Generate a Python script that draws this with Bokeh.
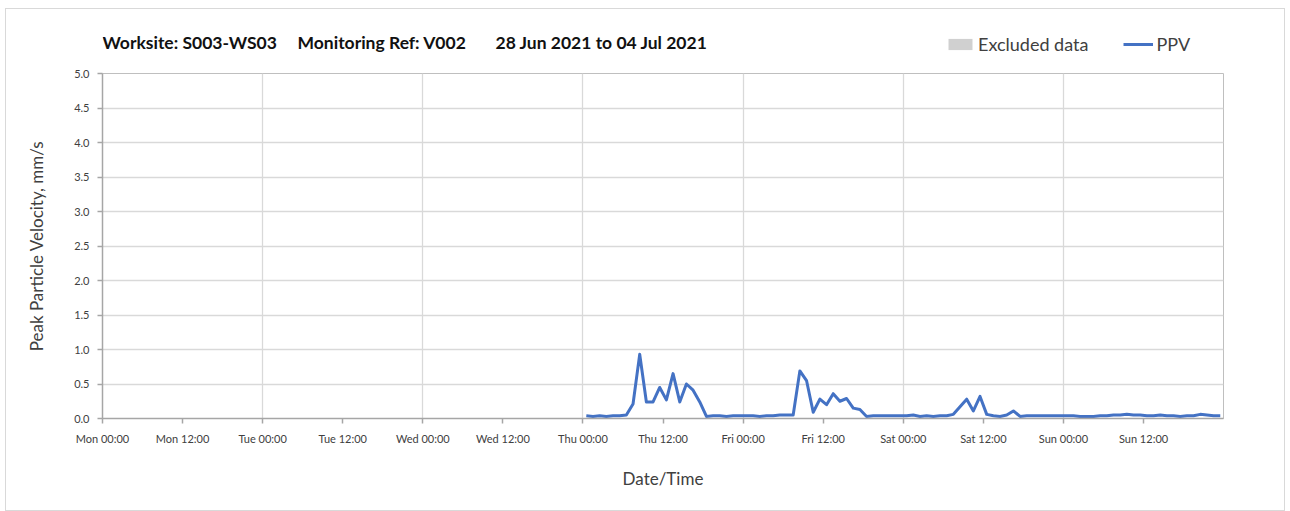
import pandas as pd
from bokeh.plotting import figure
from bokeh.layouts import column
from bokeh.models import (Range1d, SingleIntervalTicker, FixedTicker, DatetimeTickFormatter,
                          NumeralTickFormatter, Legend, LegendItem, Label, ColumnDataSource)
from bokeh.embed import file_html
from bokeh.resources import INLINE

# ---------------- data ----------------
TITLE_SITE = "Worksite: S003-WS03"
TITLE_REF = "Monitoring Ref: V002"
TITLE_DATES = "28 Jun 2021 to 04 Jul 2021"
Y_LABEL = "Peak Particle Velocity, mm/s"
X_LABEL = "Date/Time"
SERIES_NAME = "PPV"
EXCLUDED_NAME = "Excluded data"

X_START = "2021-06-28 00:00"
X_END = "2021-07-05 00:00"
DATA_START = "2021-07-01 00:30"   # hourly readings from here

ppv = [
    0.04, 0.03, 0.04, 0.03, 0.04, 0.04, 0.05, 0.21, 0.93, 0.24,   # Thu
    0.24, 0.45, 0.27, 0.65, 0.24, 0.50, 0.41, 0.24, 0.03, 0.04,
    0.04, 0.03, 0.04, 0.04, 0.04, 0.04, 0.03, 0.04, 0.04, 0.05,   # Fri
    0.05, 0.05, 0.69, 0.55, 0.09, 0.28, 0.20, 0.36, 0.25, 0.29,
    0.15, 0.13, 0.03, 0.04, 0.04, 0.04, 0.04, 0.04, 0.04, 0.05,   # Sat
    0.03, 0.04, 0.03, 0.04, 0.04, 0.06, 0.17, 0.28, 0.11, 0.32,
    0.06, 0.04, 0.03, 0.05, 0.11, 0.03, 0.04, 0.04, 0.04, 0.04,
    0.04, 0.04, 0.04, 0.04, 0.03, 0.03, 0.03, 0.04, 0.04, 0.05,   # Sun
    0.05, 0.06, 0.05, 0.05, 0.04, 0.04, 0.05, 0.04, 0.04, 0.03,
    0.04, 0.04, 0.06, 0.05, 0.04, 0.04,
]
y_ticks = [0.0, 0.5, 1.0, 1.5, 2.0, 2.5, 3.0, 3.5, 4.0, 4.5, 5.0]

times = pd.date_range(DATA_START, periods=len(ppv), freq="h")
src = ColumnDataSource(dict(t=times, v=ppv))

FONT = "Lato"
TXT = "#404040"
BLUE = "#4472C4"
EXCL_GREY = "#d0d0d0"
HOUR_MS = 3600 * 1000
W = 1278

# ---------------- main chart ----------------
p = figure(width=W, height=445, x_axis_type="datetime",
           x_range=Range1d(pd.Timestamp(X_START).to_pydatetime(),
                           (pd.Timestamp(X_END) - pd.Timedelta(minutes=1)).to_pydatetime()),
           y_range=Range1d(0, 5),
           output_backend="svg", toolbar_location=None,
           min_border_left=96, min_border_right=61, min_border_top=8, min_border_bottom=92)
p.outline_line_color = "#bfbfbf"

r_line = p.line("t", "v", source=src, line_color=BLUE, line_width=3, line_join="round")

p.xaxis.ticker = SingleIntervalTicker(interval=12 * HOUR_MS, num_minor_ticks=0)
fmt = "%a %H:%M"
p.xaxis.formatter = DatetimeTickFormatter(milliseconds=fmt, seconds=fmt, minsec=fmt, minutes=fmt,
                                          hourmin=fmt, hours=fmt, days=fmt, months=fmt, years=fmt)
p.yaxis.ticker = FixedTicker(ticks=y_ticks)
p.yaxis.formatter = NumeralTickFormatter(format="0.0")

for ax in (p.xaxis, p.yaxis):
    ax.axis_line_color = "#a6a6a6"
    ax.axis_line_width = 1.5
    ax.major_tick_line_color = "#a6a6a6"
    ax.major_tick_line_width = 1.5
    ax.major_tick_out = 5
    ax.major_tick_in = 0
    ax.minor_tick_line_color = None
    ax.major_label_text_font = FONT
    ax.major_label_text_color = TXT
    ax.axis_label_text_font = FONT
    ax.axis_label_text_color = TXT
    ax.axis_label_text_font_style = "normal"

p.xaxis.major_label_text_font_size = "11px"
p.yaxis.major_label_text_font_size = "11px"
p.xaxis.major_label_standoff = 8
p.yaxis.major_label_standoff = 8
p.xaxis.axis_label = X_LABEL
p.yaxis.axis_label = Y_LABEL
p.xaxis.axis_label_text_font_size = "17px"
p.yaxis.axis_label_text_font_size = "17px"
p.xaxis.axis_label_standoff = 20
p.yaxis.axis_label_standoff = 24

p.xgrid.ticker = SingleIntervalTicker(interval=24 * HOUR_MS, num_minor_ticks=0)
p.xgrid.grid_line_color = "#d9d9d9"
p.xgrid.grid_line_width = 1.3
p.ygrid.ticker = FixedTicker(ticks=y_ticks)
p.ygrid.grid_line_color = "#d9d9d9"
p.ygrid.grid_line_width = 1.3

# ---------------- header (title + legend); its frame aligns with the chart frame ----------------
h = figure(width=W, height=56, x_range=Range1d(0, 1), y_range=Range1d(0, 1),
           output_backend="svg", toolbar_location=None,
           x_axis_location=None, y_axis_location=None,
           min_border=0, min_border_left=0, min_border_right=0,
           min_border_top=0, min_border_bottom=0)
h.outline_line_color = None
h.grid.visible = False

for txt, xoff in ((TITLE_SITE, 0), (TITLE_REF, 195), (TITLE_DATES, 393)):
    h.add_layout(Label(x=xoff, y=23, x_units="screen", y_units="screen", text=txt,
                       text_font=FONT, text_font_style="bold", text_font_size="17.5px",
                       text_color="#111111", text_baseline="middle"))

# legend proxies (kept outside the header's visible range)
leg_ex = h.quad(left=[5], right=[6], top=[6], bottom=[5], fill_color=EXCL_GREY, line_color=None)
leg_ln = h.line(x=[5, 6], y=[5, 5], line_color=BLUE, line_width=3)
legend = Legend(items=[LegendItem(label=EXCLUDED_NAME, renderers=[leg_ex]),
                       LegendItem(label=SERIES_NAME, renderers=[leg_ln])],
                orientation="horizontal", location=(843, 10),
                border_line_color=None, background_fill_alpha=0,
                padding=0, margin=0, spacing=35, glyph_width=30, glyph_height=14,
                label_standoff=3, label_text_font=FONT, label_text_font_size="18px",
                label_text_color=TXT)
h.add_layout(legend)

layout = column(h, p, spacing=0)
layout.styles = {"border": "1px solid #d9d9d9", "margin-left": "5px", "margin-top": "8px"}

open("out.html", "w").write(file_html(layout, INLINE))
